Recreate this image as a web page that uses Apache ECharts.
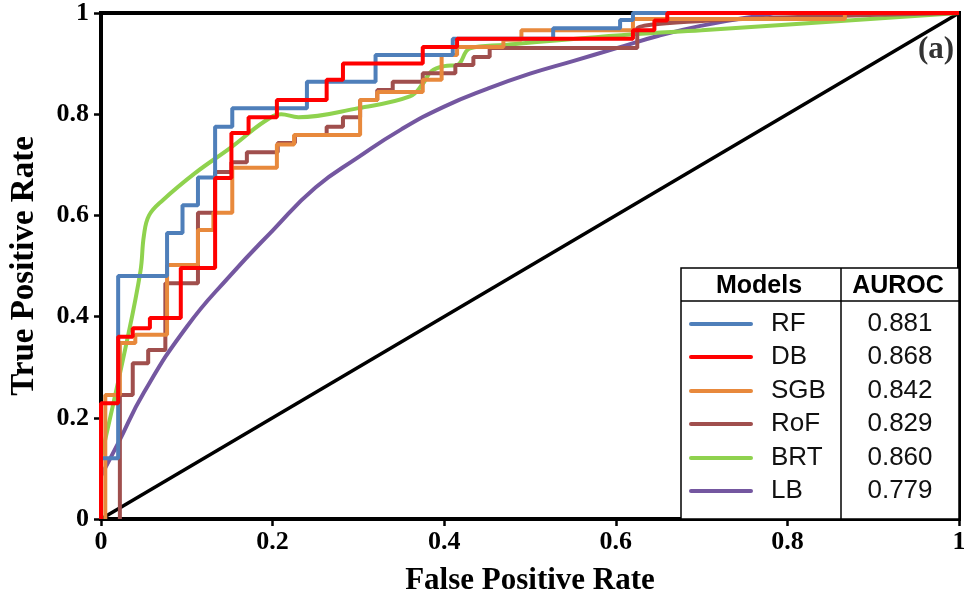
<!DOCTYPE html>
<html>
<head>
<meta charset="utf-8">
<script src="https://cdn.jsdelivr.net/npm/echarts@6/dist/echarts.min.js"></script>
<style>
  html, body {margin: 0; padding: 0; background: #fff;}
  #chart {width: 964px; height: 599px;}
</style>
</head>
<body>
<div id="chart"></div>
<script>
// ROC points [FPR, TPR]
const rfPoints = [[0,0],[0,0.12],[0.02,0.12],[0.02,0.48],[0.077,0.48],[0.077,0.565],[0.095,0.565],[0.095,0.62],[0.113,0.62],[0.113,0.675],[0.133,0.675],[0.133,0.775],[0.153,0.775],[0.153,0.812],[0.24,0.812],[0.24,0.864],[0.32,0.864],[0.32,0.917],[0.41,0.917],[0.41,0.949],[0.527,0.949],[0.527,0.97],[0.605,0.97],[0.605,0.986],[0.62,0.986],[0.62,1],[1,1]];
const dbPoints = [[0,0],[0,0.229],[0.02,0.229],[0.02,0.36],[0.037,0.36],[0.037,0.377],[0.057,0.377],[0.057,0.397],[0.093,0.397],[0.093,0.496],[0.133,0.496],[0.133,0.674],[0.152,0.674],[0.152,0.763],[0.172,0.763],[0.172,0.794],[0.205,0.794],[0.205,0.828],[0.263,0.828],[0.263,0.868],[0.282,0.868],[0.282,0.9],[0.375,0.9],[0.375,0.933],[0.415,0.933],[0.415,0.949],[0.62,0.949],[0.62,0.966],[0.645,0.966],[0.645,0.985],[0.66,0.985],[0.66,1],[1,1]];
const sgbPoints = [[0.005,0],[0.005,0.245],[0.022,0.245],[0.022,0.348],[0.04,0.348],[0.04,0.364],[0.077,0.364],[0.077,0.502],[0.113,0.502],[0.113,0.571],[0.131,0.571],[0.131,0.605],[0.153,0.605],[0.153,0.694],[0.205,0.694],[0.205,0.74],[0.225,0.74],[0.225,0.759],[0.302,0.759],[0.302,0.828],[0.322,0.828],[0.322,0.844],[0.375,0.844],[0.375,0.868],[0.397,0.868],[0.397,0.917],[0.415,0.917],[0.415,0.933],[0.469,0.933],[0.469,0.947],[0.49,0.947],[0.49,0.966],[0.62,0.966],[0.62,0.988],[0.867,0.988],[0.867,1],[1,1]];
const rofPoints = [[0.022,0],[0.022,0.245],[0.037,0.245],[0.037,0.308],[0.055,0.308],[0.055,0.334],[0.075,0.334],[0.075,0.466],[0.113,0.466],[0.113,0.605],[0.133,0.605],[0.133,0.686],[0.152,0.686],[0.152,0.705],[0.17,0.705],[0.17,0.725],[0.206,0.725],[0.206,0.743],[0.226,0.743],[0.226,0.759],[0.263,0.759],[0.263,0.775],[0.282,0.775],[0.282,0.794],[0.302,0.794],[0.302,0.828],[0.322,0.828],[0.322,0.848],[0.34,0.848],[0.34,0.864],[0.375,0.864],[0.375,0.881],[0.413,0.881],[0.413,0.897],[0.434,0.897],[0.434,0.913],[0.453,0.913],[0.453,0.931],[0.625,0.931],[0.625,0.97],[1,1]];
const brtPoints = [[0,0.12],[0.03,0.35],[0.046,0.49],[0.05,0.56],[0.056,0.6],[0.072,0.63],[0.11,0.684],[0.152,0.735],[0.19,0.785],[0.21,0.8],[0.23,0.794],[0.3,0.812],[0.36,0.835],[0.375,0.86],[0.385,0.885],[0.4,0.895],[0.415,0.897],[0.43,0.93],[0.47,0.937],[0.62,0.958],[0.7,0.966],[1,1]];
const lbPoints = [[0,0.085],[0.02,0.15],[0.05,0.25],[0.1,0.38],[0.15,0.48],[0.2,0.57],[0.25,0.655],[0.3,0.715],[0.35,0.77],[0.4,0.815],[0.45,0.85],[0.5,0.88],[0.55,0.905],[0.6,0.93],[0.65,0.955],[0.7,0.975],[0.75,0.99],[0.8,1],[1,1]];
const refPoints = [[0,0],[1,1]];

const models = ['RF', 'DB', 'SGB', 'RoF', 'BRT', 'LB'];
const auroc = ['0.881', '0.868', '0.842', '0.829', '0.860', '0.779'];
const colors = ['#4f7fba', '#ff0000', '#e8893c', '#a04f4d', '#8fd24e', '#7457a0'];
const curves = [rfPoints, dbPoints, sgbPoints, rofPoints, brtPoints, lbPoints];
const smoothing = [0.3, 0.3, 0.3, 0.3, 0.4, 0.5];

const chart = echarts.init(document.getElementById('chart'));

const serif = '"Liberation Serif", "Times New Roman", serif';
const sans = '"Liberation Sans", Arial, sans-serif';
const fmt = v => (v === 0 || v === 1) ? String(v) : v.toFixed(1);

// draw order: purple at the back, red on top
const order = [5, 4, 3, 2, 0, 1];
const series = [{
    type: 'line', data: refPoints, showSymbol: false, silent: true,
    lineStyle: {color: '#000', width: 3.5}
}].concat(order.map(i => ({
    name: models[i],
    type: 'line',
    data: curves[i],
    showSymbol: false,
    smooth: smoothing[i],
    lineStyle: {color: colors[i], width: 4},
    z: 3
})));

// table-style legend
const tLeft = 681, tRight = 959, tTop = 268, tBottom = 519, tHead = 301, tDiv = 841;
const rowY = [324, 357, 391, 424, 458, 491];
const graphic = [
    {type: 'rect', shape: {x: tLeft, y: tTop, width: tRight - tLeft, height: tBottom - tTop},
        style: {fill: '#fff', stroke: '#000', lineWidth: 1.5}, z: 10},
    {type: 'line', shape: {x1: tLeft, y1: tHead, x2: tRight, y2: tHead}, style: {stroke: '#000', lineWidth: 1.5}, z: 11},
    {type: 'line', shape: {x1: tDiv, y1: tTop, x2: tDiv, y2: tBottom}, style: {stroke: '#000', lineWidth: 1.5}, z: 11},
    {type: 'text', x: 759, y: 286, z: 11, style: {text: 'Models', font: 'bold 25px ' + sans, fill: '#000', align: 'center', verticalAlign: 'middle'}},
    {type: 'text', x: 898, y: 286, z: 11, style: {text: 'AUROC', font: 'bold 25px ' + sans, fill: '#000', align: 'center', verticalAlign: 'middle'}},
    {type: 'text', x: 936, y: 50, z: 11, style: {text: '(a)', font: 'bold 31px ' + serif, fill: '#333', align: 'center', verticalAlign: 'middle'}}
];
models.forEach((m, i) => {
    graphic.push({type: 'line', shape: {x1: 691, y1: rowY[i], x2: 751, y2: rowY[i]},
        style: {stroke: colors[i], lineWidth: 4, lineCap: 'round'}, z: 11});
    graphic.push({type: 'text', x: 771, y: rowY[i], z: 11,
        style: {text: m, font: '26px ' + sans, fill: '#111', align: 'left', verticalAlign: 'middle'}});
    graphic.push({type: 'text', x: 900, y: rowY[i], z: 11,
        style: {text: auroc[i], font: '26px ' + sans, fill: '#111', align: 'center', verticalAlign: 'middle'}});
});

const axisCommon = {
    type: 'value', min: 0, max: 1, interval: 0.2,
    splitLine: {show: false},
    axisLine: {show: true, lineStyle: {color: '#000', width: 4}},
    axisTick: {show: true, inside: false, length: 7, lineStyle: {color: '#000', width: 2.5}},
    axisLabel: {formatter: fmt, color: '#000', fontFamily: serif, fontWeight: 'bold', fontSize: 26},
    nameLocation: 'middle',
    nameTextStyle: {color: '#000', fontFamily: serif, fontWeight: 'bold', fontSize: 31}
};

chart.setOption({
    animation: false,
    backgroundColor: '#fff',
    grid: {left: 101, right: 5, top: 13, bottom: 80, containLabel: false, outerBoundsMode: 'none',
        show: true, borderColor: '#000', borderWidth: 4},
    xAxis: Object.assign({}, axisCommon, {name: 'False Positive Rate', nameGap: 46,
        axisLabel: Object.assign({}, axisCommon.axisLabel, {margin: 10})}),
    yAxis: Object.assign({}, axisCommon, {name: 'True Positive Rate', nameGap: 60,
        nameTextStyle: Object.assign({}, axisCommon.nameTextStyle, {fontSize: 33}),
        axisLabel: Object.assign({}, axisCommon.axisLabel, {margin: 12})}),
    series: series,
    graphic: graphic
});
</script>
</body>
</html>
